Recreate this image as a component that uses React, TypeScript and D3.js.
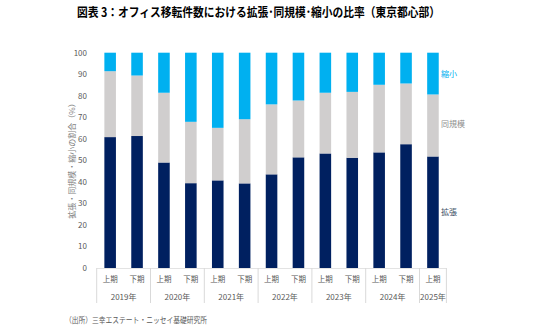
import React from "react";
import * as d3 from "d3";

const periods = ["上期","下期","上期","下期","上期","下期","上期","下期","上期","下期","上期","下期","上期"];
const years = ["2019年","2020年","2021年","2022年","2023年","2024年","2025年"];
const yearSpans = [2,2,2,2,2,2,1];
const expand = [60.8,61.3,49.0,39.4,40.7,39.3,43.5,51.4,53.2,51.2,53.7,57.5,51.8];
const same = [30.6,28.1,32.4,28.5,24.4,29.8,32.5,26.4,28.2,30.6,31.4,28.2,28.8];
const shrink = [8.6,10.6,18.6,32.1,34.9,30.9,24.0,22.2,18.6,18.2,14.9,14.3,19.4];
const yTicks = [0,10,20,30,40,50,60,70,80,90,100];
const seriesNames = ["拡張","同規模","縮小"];
const colors = ["#002060","#d0cece","#00b0f0"];
const labelColors = ["#44546a","#8c8c8c","#00b0f0"];

export default function App() {
  const W = 536, H = 334;
  const left = 96.7, right = 446.4, top = 52.7, bottom = 268;
  const idx = periods.map((_, i) => String(i));
  const x = d3.scaleBand().domain(idx).range([left, right]).paddingInner(0.57).paddingOuter(0.285);
  const y = d3.scaleLinear().domain([0, 100]).range([bottom, top]);
  const rows = expand.map((e, i) => ({ 拡張: e, 同規模: same[i], 縮小: shrink[i] }));
  const stack = d3.stack<any>().keys(seriesNames)(rows);
  const step = x.step();
  const font = "'Noto Sans CJK JP', sans-serif";
  let acc = 0;
  const yearBounds = yearSpans.map((s) => { const a = acc; acc += s; return [a, acc]; });
  const legendY = [211.7, 124, 74];
  return (
    <svg width={W} height={H} style={{ position: "absolute", left: 0, top: 0, background: "#fff" }} fontFamily={font}>
      <text x={77} y={17} fontSize={12.5} fontWeight="bold" fill="#000" textLength={363} lengthAdjust="spacingAndGlyphs">図表 3：オフィス移転件数における拡張･同規模･縮小の比率（東京都心部）</text>
      {yTicks.map((t) => (
        <text key={t} x={87} y={y(t)} dy="0.35em" textAnchor="end" fontSize={8} fill="#595959">{t}</text>
      ))}
      <text transform={`translate(72.3,159) rotate(-90)`} textAnchor="middle" dy="0.35em" fontSize={8} fill="#7f7f7f">拡張・同規模・縮小の割合（%）</text>
      {stack.map((layer, si) => (
        <g key={si} fill={colors[si]}>
          {layer.map((d, i) => (
            <rect key={i} x={x(String(i))} width={x.bandwidth()} y={y(d[1])} height={y(d[0]) - y(d[1])} />
          ))}
        </g>
      ))}
      <line x1={left} x2={right} y1={bottom + 0.5} y2={bottom + 0.5} stroke="#e3e3e3" strokeWidth={1} />
      {[0, ...yearBounds.map((b) => b[1])].map((b, i) => (
        <line key={i} x1={left + b * step} x2={left + b * step} y1={bottom} y2={303} stroke="#d9d9d9" strokeWidth={1} />
      ))}
      {periods.map((p, i) => (
        <text key={i} x={(x(String(i)) as number) + x.bandwidth() / 2} y={282} textAnchor="middle" fontSize={7.5} fill="#595959">{p}</text>
      ))}
      {years.map((yr, i) => (
        <text key={yr} x={left + ((yearBounds[i][0] + yearBounds[i][1]) / 2) * step} y={300} textAnchor="middle" fontSize={8} fill="#595959">{yr}</text>
      ))}
      {seriesNames.map((n, i) => (
        <text key={n} x={441} y={legendY[i]} dy="0.35em" fontSize={8} fill={labelColors[i]}>{n}</text>
      ))}
      <text x={65} y={323} fontSize={8} fill="#595959" textLength={142} lengthAdjust="spacingAndGlyphs">（出所）三幸エステート・ニッセイ基礎研究所</text>
    </svg>
  );
}
